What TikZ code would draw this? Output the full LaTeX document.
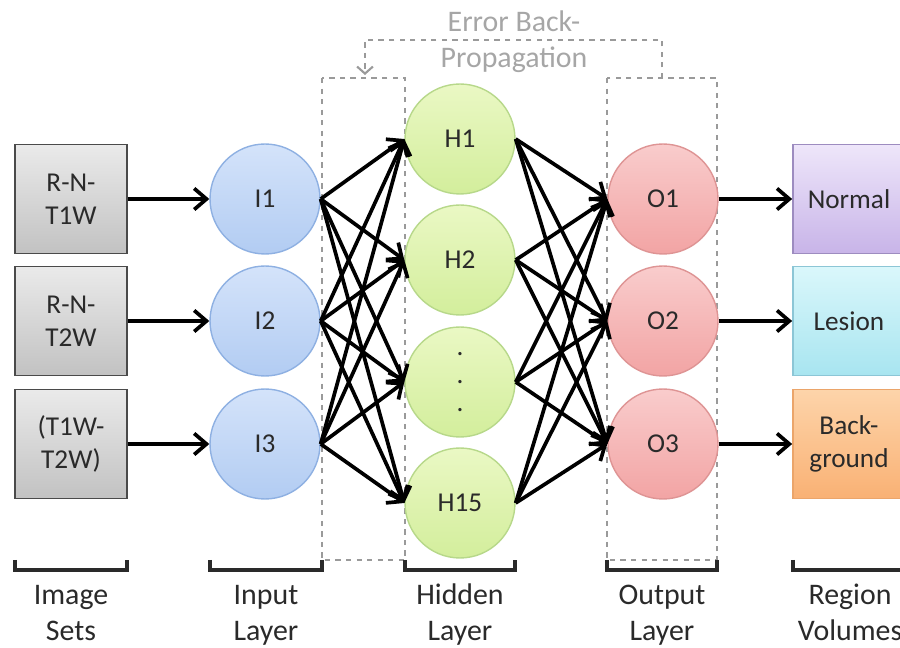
\documentclass[tikz,border=0pt]{standalone}
\usepackage{fontspec}
\setmainfont{Carlito}
\usetikzlibrary{arrows.meta}

\definecolor{textdark}{HTML}{2A2A2A}
\definecolor{dashgray}{HTML}{9A9A9A}
\definecolor{errgray}{HTML}{A6A6A6}
\definecolor{grayedge}{HTML}{4A4A4A}
\definecolor{graytop}{HTML}{EAEAEA}
\definecolor{graybot}{HTML}{C2C2C2}
\definecolor{bluetop}{HTML}{D4E3FA}
\definecolor{bluebot}{HTML}{B2CCF2}
\definecolor{blueedge}{HTML}{8EB0E2}
\definecolor{greentop}{HTML}{EAF8C4}
\definecolor{greenbot}{HTML}{D3EE9C}
\definecolor{greenedge}{HTML}{B7D88A}
\definecolor{redtop}{HTML}{F9CCCC}
\definecolor{redbot}{HTML}{F2A4A4}
\definecolor{rededge}{HTML}{DE9494}
\definecolor{purptop}{HTML}{EEE6FA}
\definecolor{purpbot}{HTML}{C8B4E8}
\definecolor{purpedge}{HTML}{9D8CC0}
\definecolor{cyantop}{HTML}{DAF7FB}
\definecolor{cyanbot}{HTML}{A8E5F0}
\definecolor{cyanedge}{HTML}{8CC6D6}
\definecolor{orangetop}{HTML}{FDD4AA}
\definecolor{orangebot}{HTML}{F9B174}
\definecolor{orangeedge}{HTML}{EBA56A}

\tikzset{
  nodefont/.style={font=\fontsize{15.5}{19}\selectfont, text=textdark},
  databox/.style={nodefont, draw, line width=1pt, minimum width=2.24cm,
    minimum height=2.18cm, align=center, inner sep=0pt},
  neuron/.style={nodefont, circle, draw, line width=0.8pt, minimum size=2.2cm,
    inner sep=0pt, align=center},
  link/.style={-{Straight Barb[length=7pt,width=12pt]}, line width=2.1pt, black},
  layerbox/.style={dashgray, dashed, line width=1.2pt},
  brace/.style={textdark, line width=1.8pt},
  caption/.style={font=\fontsize{17}{20.5}\selectfont, text=textdark, align=center}
}

\begin{document}
\begin{tikzpicture}[x=0.02cm, y=-0.02cm]
  \useasboundingbox (0,0) rectangle (900,648);

  % Error back-propagation loop
  \draw[layerbox] (322,78) rectangle (405,560);
  \draw[layerbox] (607,78) rectangle (717,560);
  \coordinate (outtop) at (662,78);
  \coordinate (hidtop) at (365,75);
  \draw[layerbox, -{Straight Barb[length=4pt,width=9pt]}] (outtop) -- (662,40) -| (hidtop);
  \node[font=\fontsize{17}{20.5}\selectfont, text=errgray, align=center] (err) at (514,42)
    {Error Back-\\Propagation};

  % Image sets
  \node[databox, draw=grayedge, top color=graytop, bottom color=graybot] (s1) at (71,199) {R-N-\\T1W};
  \node[databox, draw=grayedge, top color=graytop, bottom color=graybot] (s2) at (71,321) {R-N-\\T2W};
  \node[databox, draw=grayedge, top color=graytop, bottom color=graybot] (s3) at (71,444) {(T1W-\\T2W)};

  % Input layer
  \foreach \i/\y in {1/199, 2/321, 3/444}
    \node[neuron, top color=bluetop, bottom color=bluebot, draw=blueedge] (i\i) at (265,\y) {I\i};

  % Hidden layer
  \node[neuron, top color=greentop, bottom color=greenbot, draw=greenedge] (h1) at (460,139) {H1};
  \node[neuron, top color=greentop, bottom color=greenbot, draw=greenedge] (h2) at (460,260) {H2};
  \node[neuron, top color=greentop, bottom color=greenbot, draw=greenedge,
    font=\fontsize{15.5}{15.9}\selectfont] (h3) at (460,382) {.\\.\\.};
  \node[neuron, top color=greentop, bottom color=greenbot, draw=greenedge] (h4) at (460,503) {H15};

  % Output layer
  \foreach \i/\y in {1/199, 2/321, 3/444}
    \node[neuron, top color=redtop, bottom color=redbot, draw=rededge] (o\i) at (663,\y) {O\i};

  % Region volumes
  \node[databox, draw=purpedge, top color=purptop, bottom color=purpbot] (r1) at (849,199) {Normal};
  \node[databox, draw=cyanedge, top color=cyantop, bottom color=cyanbot] (r2) at (849,321) {Lesion};
  \node[databox, draw=orangeedge, top color=orangetop, bottom color=orangebot] (r3) at (849,444) {Back-\\ground};

  % Connections
  \foreach \i in {1,2,3} {
    \draw[link] (s\i.east) -- (i\i.west);
    \draw[link] (o\i.east) -- (r\i.west);
  }
  \foreach \i in {1,2,3}
    \foreach \h in {1,...,4}
      \draw[link] (i\i.east) -- (h\h.west);
  \foreach \h in {1,...,4}
    \foreach \o in {1,2,3}
      \draw[link] (h\h.east) -- (o\o.west);

  % Brackets and captions
  \foreach \a/\b/\c/\t/\u in {15/127/71/Image/Sets, 210/322/266/Input/Layer,
      405/515/460/Hidden/Layer, 607/717/662/Output/Layer, 793/905/850/Region/Volumes} {
    \draw[brace] (\a,560) -- (\a,570) -- (\b,570) -- (\b,560);
    \node[caption] at (\c,615) {\strut\t\\\strut\u};
  }
\end{tikzpicture}
\end{document}
